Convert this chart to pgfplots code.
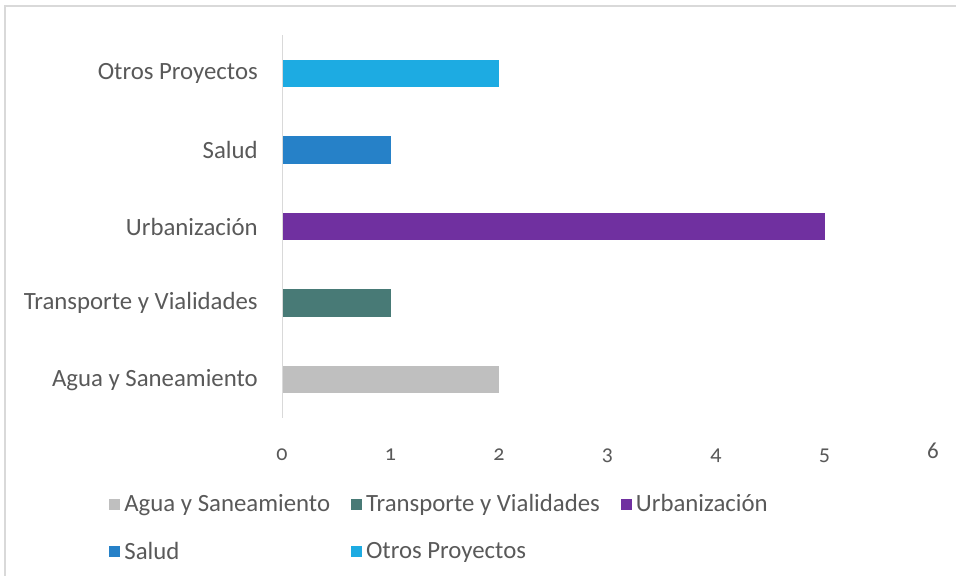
\documentclass[border=0pt]{standalone}
\usepackage{pgfplots}
\pgfplotsset{compat=1.18}
\usepackage{fontspec}
\setmainfont{Carlito}[Numbers=OldStyle]
\newfontfamily\lining{Carlito}[Numbers=Lining]

\definecolor{agua}{RGB}{191,191,191}
\definecolor{transp}{RGB}{72,122,118}
\definecolor{urban}{RGB}{112,48,160}
\definecolor{salud}{RGB}{38,129,200}
\definecolor{otros}{RGB}{29,171,226}
\definecolor{txt}{RGB}{89,89,89}
\definecolor{frame}{RGB}{217,217,217}

\begin{document}
\begin{tikzpicture}
% page = 956 x 575 px, 1px = 0.5pt, origin top left
\path[use as bounding box] (0,0) rectangle (478pt,-287.5pt);
\draw[frame, line width=0.8pt] (2.5pt,-290pt) -- (2.5pt,-3pt) -- (480pt,-3pt);
\begin{axis}[
    at={(141pt,-209pt)}, anchor=south west,
    scale only axis,
    width=325.5pt, height=191.5pt,
    xbar, bar width=13.75pt,
    xmin=0, xmax=6,
    ymin=-0.5, ymax=4.5,
    axis line style={draw=none},
    axis x line*=bottom,
    axis y line*=left,
    ytick={0,...,4},
    yticklabels={Agua y Saneamiento,Transporte y Vialidades,Urbanización,Salud,Otros Proyectos},
    xtick={0,...,5},
    extra x ticks={6},
    extra x tick style={xticklabel style={font=\lining\fontsize{11.5}{13}\selectfont, yshift=3pt}},
    major tick length=0pt,
    /pgf/number format/assume math mode=true,
    xticklabel style={font=\fontsize{11}{12}\selectfont, text=txt, yshift=-12pt},
    yticklabel style={font=\fontsize{12.4}{14}\selectfont, text=txt, xshift=-8.6pt},
    legend cell align=left,
    legend style={
        at={(-0.275,-0.178)}, anchor=north west,
        draw=none, fill=none,
        font=\fontsize{12.4}{14}\selectfont, text=txt,
        legend columns=3,
        /tikz/every even column/.append style={column sep=8.5pt},
        row sep=9.5pt,
    },
    legend image code/.code={\fill[#1] (0pt,-2.75pt) rectangle (5.5pt,2.75pt);},
]
\addplot[fill=agua, draw=none, bar shift=0pt] coordinates {(2,0)};
\addplot[fill=transp, draw=none, bar shift=0pt] coordinates {(1,1)};
\addplot[fill=urban, draw=none, bar shift=0pt] coordinates {(5,2)};
\addplot[fill=salud, draw=none, bar shift=0pt] coordinates {(1,3)};
\addplot[fill=otros, draw=none, bar shift=0pt] coordinates {(2,4)};
\draw[frame, line width=1pt] (axis cs:0,-0.5) -- (axis cs:0,4.5);
\legend{Agua y Saneamiento,Transporte y Vialidades,Urbanización,Salud,Otros Proyectos}
\end{axis}
\end{tikzpicture}
\end{document}
